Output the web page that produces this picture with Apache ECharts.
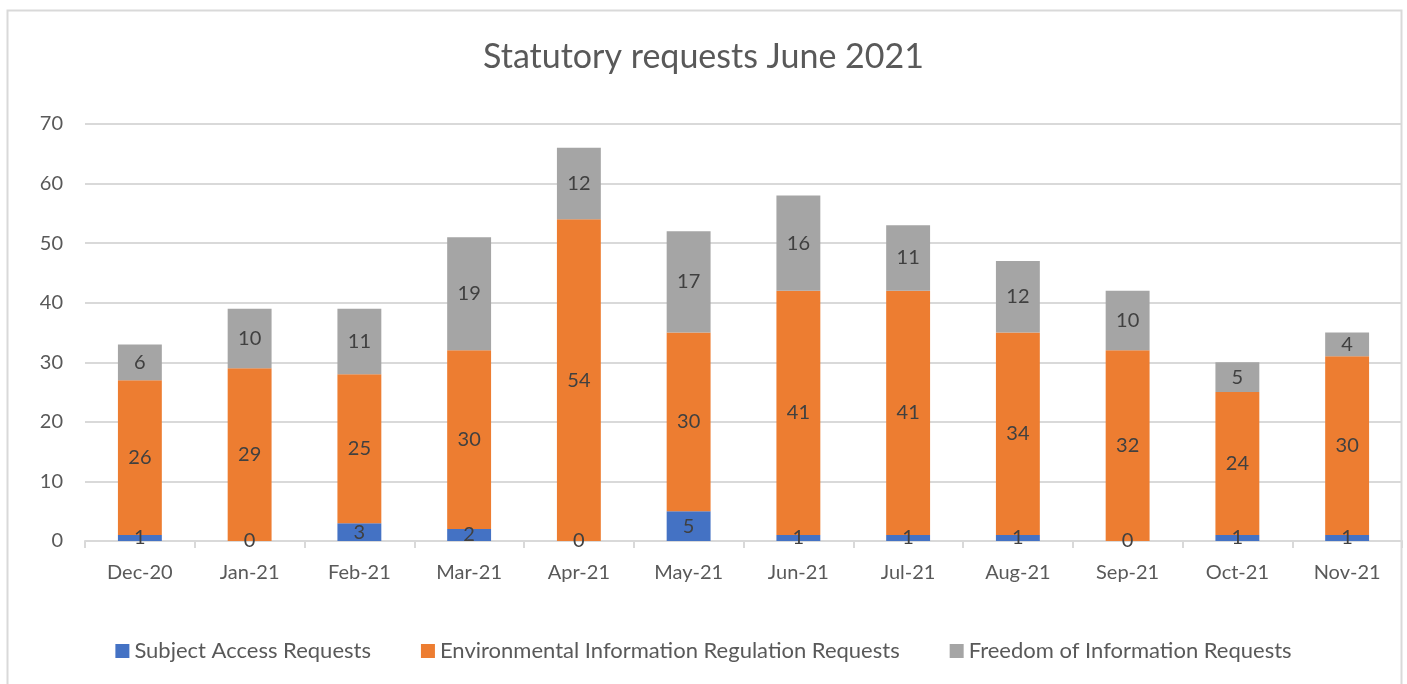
<!DOCTYPE html>
<html>
<head>
<meta charset="utf-8">
<script src="https://cdn.jsdelivr.net/npm/echarts@6/dist/echarts.min.js"></script>
<style>
  html, body { margin: 0; padding: 0; background: #fff; }
  #app { width: 1407px; height: 684px; }
</style>
</head>
<body>
<div id="app"></div>
<script>
const months = ['Dec-20', 'Jan-21', 'Feb-21', 'Mar-21', 'Apr-21', 'May-21', 'Jun-21', 'Jul-21', 'Aug-21', 'Sep-21', 'Oct-21', 'Nov-21']
const subjectAccess = [1, 0, 3, 2, 0, 5, 1, 1, 1, 0, 1, 1]
const envInfo = [26, 29, 25, 30, 54, 30, 41, 41, 34, 32, 24, 30]
const freedomInfo = [6, 10, 11, 19, 12, 17, 16, 11, 12, 10, 5, 4]

const font = 'Lato, "Open Sans", sans-serif'
const textColor = '#595959'

const echart = echarts.init(document.getElementById('app'))

const label = {
  show: true,
  position: 'inside',
  color: '#404040',
  fontSize: 20,
  fontFamily: font
}

echart.setOption({
  animation: false,
  title: {
    text: 'Statutory requests June 2021',
    left: 'center',
    top: 35,
    textStyle: {
      color: textColor,
      fontSize: 34,
      fontWeight: 400,
      fontFamily: font
    }
  },
  graphic: [
    {
      type: 'rect',
      shape: { x: 7.5, y: 10.5, width: 1394, height: 690 },
      style: { fill: 'none', stroke: '#d9d9d9', lineWidth: 2 },
      silent: true,
      z: -1
    }
  ],
  grid: {
    left: 85,
    right: 5,
    top: 124,
    bottom: 143
  },
  xAxis: {
    type: 'category',
    data: months,
    axisLine: { lineStyle: { color: '#d9d9d9', width: 2 } },
    axisTick: { show: true, length: 7, lineStyle: { color: '#d9d9d9', width: 2 } },
    axisLabel: {
      color: textColor,
      fontSize: 20,
      fontFamily: font,
      margin: 22,
      interval: 0
    }
  },
  yAxis: {
    type: 'value',
    min: 0,
    max: 70,
    interval: 10,
    axisLine: { show: false },
    axisTick: { show: false },
    axisLabel: {
      color: textColor,
      fontSize: 20,
      fontFamily: font,
      margin: 22
    },
    splitLine: { lineStyle: { color: '#d9d9d9', width: 2 } }
  },
  legend: {
    bottom: 17,
    left: 'center',
    itemWidth: 14,
    itemHeight: 14,
    itemGap: 50,
    icon: 'rect',
    textStyle: {
      color: textColor,
      fontSize: 22,
      fontFamily: font
    }
  },
  series: [
    {
      name: 'Subject Access Requests',
      type: 'bar',
      stack: 'total',
      barWidth: '40%',
      data: subjectAccess,
      itemStyle: { color: '#4472c4' },
      label: label
    },
    {
      name: 'Environmental Information Regulation Requests',
      type: 'bar',
      stack: 'total',
      data: envInfo,
      itemStyle: { color: '#ed7d31' },
      label: label
    },
    {
      name: 'Freedom of Information Requests',
      type: 'bar',
      stack: 'total',
      data: freedomInfo,
      itemStyle: { color: '#a5a5a5' },
      label: label
    }
  ]
})
</script>
</body>
</html>
